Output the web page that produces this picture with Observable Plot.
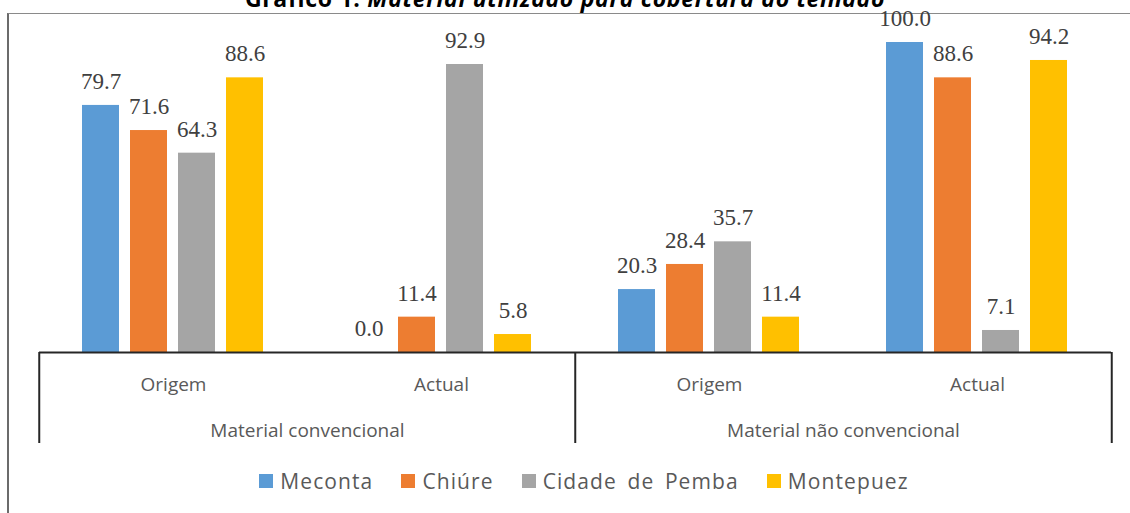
<!DOCTYPE html>
<html>
<head>
<meta charset="utf-8">
<script src="https://cdn.jsdelivr.net/npm/d3@7"></script>
<script src="https://cdn.jsdelivr.net/npm/@observablehq/plot@0.6"></script>
<style>
  html, body { margin: 0; padding: 0; background: #fff; }
  body { width: 1130px; height: 513px; overflow: hidden; position: relative; font-family: "Open Sans", sans-serif; }
  #frame { position: absolute; left: 7px; top: 13px; width: 1200px; height: 600px; border-left: 2px solid #6b6b6b; border-top: 1px solid #8a8a8a; }
  #title { position: absolute; left: 0; width: 1130px; top: -13px; text-align: center; font-size: 23px; line-height: 23px; font-weight: bold; color: #000; white-space: nowrap; letter-spacing: 0.7px; }
  #chart { position: absolute; left: 0; top: 0; }
  #legend { position: absolute; left: 19px; top: 467px; width: 1130px; display: flex; justify-content: center; align-items: center; font-size: 21px; letter-spacing: 1.1px; word-spacing: 4px; color: #595959; }
  .item { display: flex; align-items: center; margin: 0 14px; }
  .sw { width: 14px; height: 14px; margin-right: 7px; }
</style>
</head>
<body>
<div id="frame"></div>
<div id="title">Gráfico 1: <i>Material utilizado para cobertura do telhado</i></div>
<div id="chart"></div>
<div id="legend"></div>
<script>
const groups = ["Material convencional", "Material não convencional"];
const periods = ["Origem", "Actual"];
const series = ["Meconta", "Chiúre", "Cidade de Pemba", "Montepuez"];
const colors = ["#5B9BD5", "#ED7D31", "#A5A5A5", "#FFC000"];
const convOrigem = [79.7, 71.6, 64.3, 88.6];
const convActual = [0.0, 11.4, 92.9, 5.8];
const naoOrigem = [20.3, 28.4, 35.7, 11.4];
const naoActual = [100.0, 88.6, 7.1, 94.2];

const valueSets = [[convOrigem, convActual], [naoOrigem, naoActual]];
const cats = [];
const rows = [];
groups.forEach((g, gi) => periods.forEach((p, pi) => {
  const key = g + "|" + p;
  cats.push(key);
  series.forEach((s, si) => rows.push({cat: key, group: g, period: p, series: s, value: valueSets[gi][pi][si]}));
}));
const firstOfGroup = groups.map(g => g + "|" + periods[0]);
const lastKey = cats[cats.length - 1];

const W = 1130, H = 460, mL = 38, mR = 18, mT = 42, mB = 108;
const half = (W - mL - mR) / cats.length / 2;
const axisColor = "#262626";

const plot = Plot.plot({
  width: W, height: H,
  marginLeft: mL, marginRight: mR, marginTop: mT, marginBottom: mB,
  style: {fontFamily: "Open Sans, sans-serif", background: "transparent", overflow: "visible"},
  fx: {domain: cats, padding: 0, axis: null},
  x: {domain: series, paddingInner: 0.22, paddingOuter: 0.85, axis: null},
  y: {domain: [0, 100], axis: null},
  color: {domain: series, range: colors},
  marks: [
    Plot.barY(rows, {fx: "cat", x: "series", y: "value", fill: "series"}),
    Plot.text(rows, {fx: "cat", x: "series", y: "value", text: d => d.value.toFixed(1), dy: -24,
      fontFamily: "Liberation Serif, Times New Roman, serif", fontSize: 23, fill: "#404040"}),
    Plot.ruleY([0], {stroke: axisColor, strokeWidth: 2}),
    Plot.ruleX(firstOfGroup, {fx: d => d, x: null, dx: -half, insetTop: H - mT - mB, insetBottom: -91, stroke: axisColor, strokeWidth: 2}),
    Plot.ruleX([lastKey], {fx: d => d, x: null, dx: half, insetTop: H - mT - mB, insetBottom: -91, stroke: axisColor, strokeWidth: 2}),
    Plot.text(cats, {fx: d => d, text: d => d.split("|")[1], frameAnchor: "bottom", dy: 38,
      fontSize: 19, fill: "#595959", style: "letter-spacing: 0.9px"}),
    Plot.text(firstOfGroup, {fx: d => d, text: d => d.split("|")[0], frameAnchor: "bottom-right", textAnchor: "middle", dy: 84,
      fontSize: 19, fill: "#595959", style: "letter-spacing: 0.5px"})
  ]
});
document.getElementById("chart").appendChild(plot);

const legend = document.getElementById("legend");
series.forEach((s, i) => {
  const it = document.createElement("div");
  it.className = "item";
  const sw = document.createElement("span");
  sw.className = "sw";
  sw.style.background = colors[i];
  const lb = document.createElement("span");
  lb.textContent = s;
  it.appendChild(sw); it.appendChild(lb);
  legend.appendChild(it);
});
</script>
</body>
</html>
